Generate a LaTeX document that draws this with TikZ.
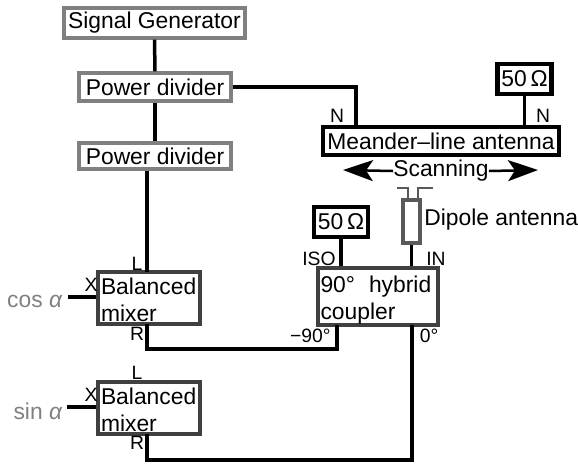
\documentclass[tikz,border=0pt]{standalone}
\usepackage{fontspec}
\setmainfont{Liberation Sans}
\usetikzlibrary{arrows.meta}
\begin{document}
\begin{tikzpicture}[
    x=0.02cm,y=-0.02cm,
    font=\fontsize{13}{15.4}\selectfont,
    graybox/.style={rectangle,draw=black!50,line width=0.065cm,fill=white,inner sep=0pt},
    darkbox/.style={rectangle,draw=black!75,line width=0.065cm,fill=white,inner sep=0pt,align=left,text depth=13.7pt},
    blackbox/.style={rectangle,draw=black,line width=0.065cm,fill=white,inner sep=0pt},
    loadbox/.style={rectangle,draw=black,line width=0.085cm,fill=white,inner sep=0pt,minimum width=1.08cm,minimum height=0.6cm},
    wire/.style={line width=0.07cm},
    scanarrow/.style={line width=0.05cm,-{Stealth[length=0.6cm,width=0.42cm,inset=0.14cm]}},
    port/.style={font=\fontsize{11}{12}\selectfont,inner sep=0pt}
]
    \useasboundingbox (0,0) rectangle (578,464);

    % Signal path on the left
    \node[graybox,minimum width=3.62cm,minimum height=0.6cm] (gen) at (154.5,23) {Signal Generator};
    \node[graybox,minimum width=3.04cm,minimum height=0.56cm] (diva) at (155,87) {Power divider};
    \node[graybox,minimum width=3.04cm,minimum height=0.52cm] (divb) at (155,156) {Power divider};
    \node[darkbox,minimum width=2.04cm,minimum height=1.04cm,text width=1.92cm] (mixa) at (149,298) {Balanced\\mixer};
    \node[darkbox,minimum width=2.04cm,minimum height=1.04cm,text width=1.92cm] (mixb) at (149,408) {Balanced\\mixer};
    \coordinate (mixaL) at (147,272);
    \coordinate (mixaR) at (147,324);
    \coordinate (mixbR) at (147,434);
    \coordinate (cosend) at (68,297);
    \coordinate (sinend) at (67,407);
    \node[anchor=east,inner sep=0pt,text=black!50] (cosin) at (63,301) {cos \textit{α}};
    \node[anchor=east,inner sep=0pt,text=black!50] (sinin) at (63,411) {sin \textit{α}};

    % Antennas and hybrid on the right
    \node[blackbox,minimum width=4.72cm,minimum height=0.56cm] (meander) at (441,141) {Meander–line antenna};
    \node[loadbox] (loada) at (524.5,79) {50\,Ω};
    \node[loadbox] (loadb) at (341,222) {50\,Ω};
    \node[rectangle,draw=black!65,line width=0.065cm,fill=white,inner sep=0pt,minimum width=0.34cm,minimum height=0.86cm] (dipole) at (411.5,221.5) {};
    \node[darkbox,minimum width=2.4cm,minimum height=1.14cm,text width=2.3cm] (hybrid) at (378,296.5) {90°\hspace{0.28cm}hybrid\\coupler};
    \node[inner sep=0pt] (scan) at (441,171) {Scanning};
    \node[anchor=west,inner sep=0pt] (dipolelabel) at (424,220) {Dipole antenna};
    \coordinate (scanL) at (343,170);
    \coordinate (scanR) at (538,170);
    \coordinate (armL) at (397,188);
    \coordinate (armR) at (433,188);
    \coordinate (bendA) at (408,188);
    \coordinate (bendB) at (418,188);
    \coordinate (meanderN) at (356,127);
    \coordinate (hybridA) at (337,325);
    \coordinate (hybridB) at (412,325);
    \coordinate (lowA) at (147,349);
    \coordinate (lowB) at (147,460);

    % Connections
    \draw[wire] (gen.south) -- (diva.north);
    \draw[wire] (diva.south) -- (divb.north);
    \draw[wire] (divb.south -| mixaL) -- (mixaL);
    \draw[wire] (diva.east) -| (meanderN);
    \draw[wire] (loada.south) -- (loada.south |- meander.north);
    \draw[wire] (loadb.south) -- (loadb.south |- hybrid.north);
    \draw[wire] (dipole.south) -- (dipole.south |- hybrid.north);
    \draw[wire] (mixaR) -- (lowA) -| (hybridA);
    \draw[wire] (mixbR) -- (lowB) -| (hybridB);
    \draw[wire] (cosend) -- (mixa.west |- cosend);
    \draw[wire] (sinend) -- (mixb.west |- sinend);
    \draw[scanarrow] (scan.west) -- (scanL);
    \draw[scanarrow] (scan.east) -- (scanR);
    \draw[black!65,line width=0.6pt] (armL) -- (bendA) -- (bendA |- dipole.north);
    \draw[black!65,line width=0.6pt] (armR) -- (bendB) -- (bendB |- dipole.north);

    % Port labels
    \node[port] (pn1) at (337,116) {N};
    \node[port] (pn2) at (543,116) {N};
    \node[port] (piso) at (319,259) {ISO};
    \node[port] (pin) at (436,259) {IN};
    \node[port,anchor=east] (pm90) at (331,336) {−90°};
    \node[port] (p0) at (429,336) {0°};
    \node[port] (pl1) at (137,264) {L};
    \node[port] (px1) at (91,285) {X};
    \node[port] (pr1) at (137,334) {R};
    \node[port] (pl2) at (137,373) {L};
    \node[port] (px2) at (91,395) {X};
    \node[port] (pr2) at (137,443) {R};
\end{tikzpicture}
\end{document}
